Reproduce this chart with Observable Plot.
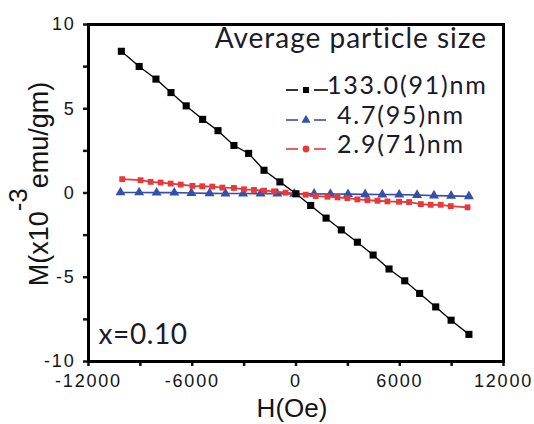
<!DOCTYPE html>
<html>
<head>
<meta charset="utf-8">
<script src="https://cdn.jsdelivr.net/npm/d3@7"></script>
<script src="https://cdn.jsdelivr.net/npm/@observablehq/plot@0.6"></script>
<style>
  html, body { margin: 0; padding: 0; background: #fff; }
  #chart { width: 534px; height: 424px; }
</style>
</head>
<body>
<div id="chart"></div>
<script>
// ---- data ----
const seriesNames = ["133.0(91)nm", "4.7(95)nm", "2.9(71)nm"];
const seriesColors = ["#000000", "#3550a8", "#e8383a"];
const seriesSymbols = ["square", "triangle", "circle"];

const blackH = [-10100, -9070, -8100, -7230, -6350, -5400, -4510, -3590, -2740, -1850, -930, 0, 850, 1740, 2620, 3550, 4460, 5380, 6290, 7150, 8080, 8970, 10000];
const blackM = [8.41, 7.51, 6.76, 5.96, 5.17, 4.37, 3.70, 2.82, 2.35, 1.35, 0.66, -0.05, -0.74, -1.49, -2.19, -2.92, -3.68, -4.51, -5.21, -5.96, -6.76, -7.55, -8.39];

const blueH = [-10150, -9070, -8060, -7040, -6050, -5000, -4080, -3060, -2050, -1080, -100, 1050, 1990, 3010, 4000, 4990, 5970, 7000, 7980, 8970, 10000];
const blueM = [0.03, 0.03, 0.02, 0.02, 0.0, -0.02, -0.03, -0.03, -0.04, -0.04, -0.05, -0.05, -0.06, -0.07, -0.08, -0.09, -0.10, -0.12, -0.15, -0.17, -0.20];

const redH = [-10050, -8990, -8410, -7830, -7250, -6670, -5990, -5420, -4840, -4260, -3590, -3010, -2430, -1850, -1270, -600, -20, 560, 1140, 1820, 2400, 2970, 3550, 4130, 4710, 5290, 5960, 6540, 7220, 7790, 8370, 8950, 9920];
const redM = [0.82, 0.76, 0.66, 0.62, 0.56, 0.50, 0.42, 0.40, 0.38, 0.32, 0.30, 0.22, 0.18, 0.14, 0.10, 0.02, -0.02, -0.10, -0.18, -0.22, -0.26, -0.30, -0.38, -0.42, -0.46, -0.50, -0.52, -0.54, -0.66, -0.70, -0.70, -0.78, -0.85];

const xMajor = [-12000, -6000, 0, 6000, 12000];
const xMinor = [-9000, -3000, 3000, 9000];
const yMajor = [-10, -5, 0, 5, 10];
const yMinor = [-7.5, -2.5, 2.5, 7.5];

const legendTitle = "Average particle size";
const note = "x=0.10";
const xLabel = "H(Oe)";
const yLabelParts = ["M(x10", "-3", "emu/gm)"];

// ---- build tables ----
const toRows = (H, M, s) => H.map((h, i) => ({H: h, M: M[i], s}));
const black = toRows(blackH, blackM, 0);
const blue = toRows(blueH, blueM, 1);
const red = toRows(redH, redM, 2);

const tickFont = {fontSize: 18, fontFamily: "Liberation Sans, Arial, sans-serif"};

const plot = Plot.plot({
  width: 534,
  height: 424,
  marginLeft: 88,
  marginRight: 31,
  marginTop: 24,
  marginBottom: 63,
  x: {domain: [-12000, 12000]},
  y: {domain: [-10, 10]},
  style: {fontFamily: "Liberation Sans, Arial, sans-serif", fontSize: "18px", color: "#141414", background: "#fff", overflow: "visible"},
  marks: [
    Plot.axisX(xMajor, {tickSize: 5, tickPadding: 8, strokeWidth: 2.5, tickFormat: d => String(d), label: null, ...tickFont}),
    Plot.axisX(xMinor, {tickSize: 5, strokeWidth: 2.5, tickFormat: () => "", label: null}),
    Plot.axisY(yMajor, {tickSize: 5, tickPadding: 8, strokeWidth: 2.5, tickFormat: d => String(d), label: null, ...tickFont}),
    Plot.axisY(yMinor, {tickSize: 5, strokeWidth: 2.5, tickFormat: () => "", label: null}),
    Plot.line(blue, {x: "H", y: "M", stroke: seriesColors[1], strokeWidth: 1.7}),
    Plot.dot(blue, {x: "H", y: "M", symbol: "triangle", fill: seriesColors[1], stroke: "none", r: 3.7}),
    Plot.line(red, {x: "H", y: "M", stroke: seriesColors[2], strokeWidth: 1.8}),
    Plot.dot(red, {x: "H", y: "M", symbol: "square", fill: seriesColors[2], stroke: "none", r: 3.3}),
    Plot.line(black, {x: "H", y: "M", stroke: seriesColors[0], strokeWidth: 1.3}),
    Plot.dot(black, {x: "H", y: "M", symbol: "square", fill: seriesColors[0], stroke: "none", r: 4}),
    Plot.text([note], {frameAnchor: "bottom-left", dx: 10, dy: -18, text: d => d, fontSize: 28, fontFamily: "Lato, sans-serif", fill: "#1a1a2a", textAnchor: "start"}),
    Plot.frame({stroke: "#000", strokeWidth: 3})
  ]
});

document.getElementById("chart").appendChild(plot);

// ---- legend and axis titles added into the same SVG ----
const svg = d3.select(plot);
svg.selectAll("[aria-label='x-axis tick label'] text, [aria-label='y-axis tick label'] text").style("letter-spacing", "1.8px");
svg.selectAll("[aria-label='text'] text").style("letter-spacing", "0.6px");

const lg = svg.append("g").attr("font-family", "Lato, sans-serif").attr("fill", "#1a1a2a").attr("text-anchor", "start");
lg.append("text").attr("x", 487).attr("y", 48).attr("text-anchor", "end").attr("font-size", 28).style("letter-spacing", "1px").text(legendTitle);
const rowY = [90, 120, 149];
const textX = [327, 337, 337];
seriesNames.forEach((name, i) => {
  const g = lg.append("g");
  g.append("line").attr("x1", 286).attr("x2", 298).attr("y1", rowY[i]).attr("y2", rowY[i]).attr("stroke", seriesColors[i]).attr("stroke-width", 1.6);
  g.append("line").attr("x1", 314).attr("x2", i === 0 ? 328 : 326).attr("y1", rowY[i]).attr("y2", rowY[i]).attr("stroke", seriesColors[i]).attr("stroke-width", 1.6);
  const sym = {square: d3.symbolSquare, triangle: d3.symbolTriangle, circle: d3.symbolCircle}[seriesSymbols[i]];
  g.append("path").attr("d", d3.symbol(sym, 36)()).attr("transform", `translate(306,${rowY[i]})`).attr("fill", seriesColors[i]);
  g.append("text").attr("x", textX[i]).attr("y", rowY[i] + 4).attr("font-size", 25).style("letter-spacing", "1.8px").text(name);
});

// x axis title
svg.append("text").attr("x", 292).attr("y", 417).attr("text-anchor", "middle")
  .attr("font-family", "Liberation Sans, Arial, sans-serif").attr("font-size", 26).attr("fill", "#141414").text(xLabel);

// y axis title with superscript
const yt = svg.append("text").attr("transform", "translate(48,184) rotate(-90)").attr("text-anchor", "middle")
  .attr("font-family", "Liberation Sans, Arial, sans-serif").attr("font-size", 27).attr("fill", "#141414");
yt.append("tspan").text(yLabelParts[0]);
yt.append("tspan").attr("dy", -21).attr("font-size", 26).text(yLabelParts[1]);
yt.append("tspan").attr("dy", 21).text(yLabelParts[2]);
</script>
</body>
</html>
